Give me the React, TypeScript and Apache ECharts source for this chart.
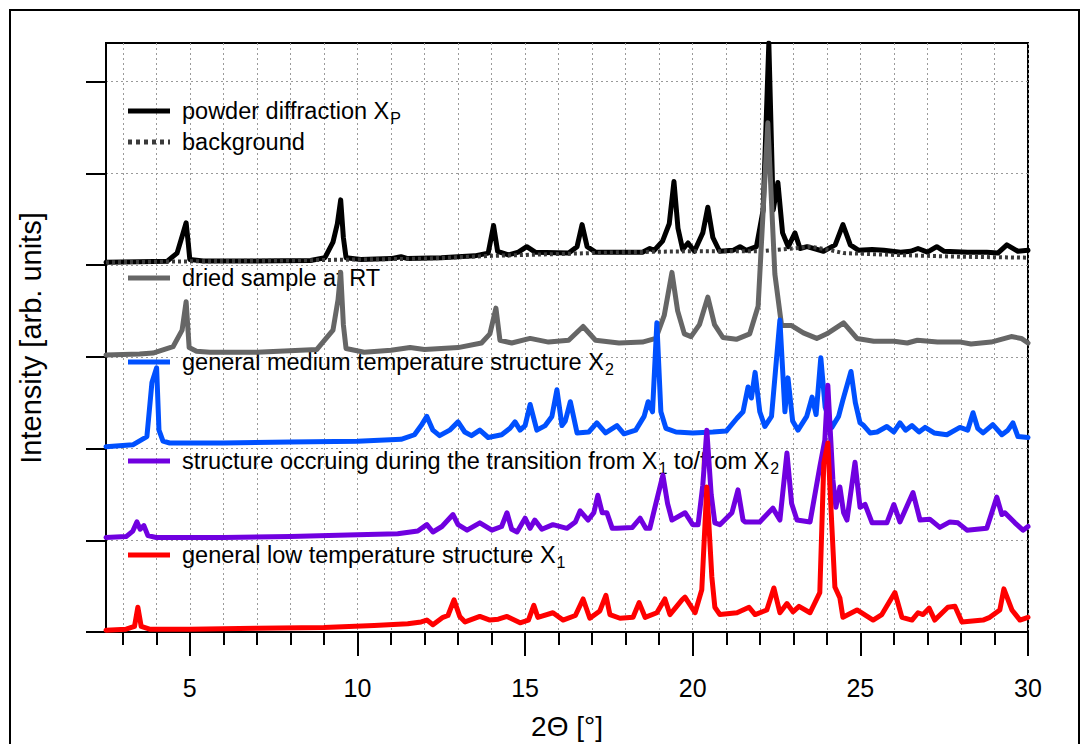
import React, { useEffect, useRef } from "react";
import * as echarts from "echarts";

// ---------- data ----------
const xTickLabels = [5, 10, 15, 20, 25, 30];
const xMinorTicks = [3, 4, 5, 6, 7, 8, 9, 10, 11, 12, 13, 14, 15, 16, 17, 18, 19, 20, 21, 22, 23, 24, 25, 26, 27, 28, 29, 30];
const yTicks = [0, 1, 2, 3, 4, 5, 6];

const legendLabels = [
  "powder diffraction X{s|P}",
  "background",
  "dried sample at RT",
  "general medium temperature structure X{s|2}",
  "structure occruing during the transition from X{s|1} to/from X{s|2}",
  "general low temperature structure X{s|1}",
];

const powderXP: number[][] = [
  [2.5, 4.03], [3.5, 4.035], [4.32, 4.04], [4.62, 4.13], [4.8, 4.35], [4.89, 4.46], [4.95, 4.25], [5.0, 4.06], [5.4, 4.045],
  [7, 4.045], [8.6, 4.05], [9.03, 4.08], [9.27, 4.25], [9.4, 4.45], [9.5, 4.71], [9.58, 4.3], [9.66, 4.08], [10.1, 4.06], [11, 4.07],
  [11.3, 4.09], [11.5, 4.07], [12.5, 4.08], [13.5, 4.1], [13.9, 4.13], [14.06, 4.43], [14.18, 4.15], [14.5, 4.11],
  [14.8, 4.14], [15.05, 4.2], [15.3, 4.14], [16.3, 4.13], [16.55, 4.2], [16.7, 4.44], [16.85, 4.2], [17.1, 4.14],
  [18.5, 4.14], [18.72, 4.18], [18.85, 4.16], [19.1, 4.26], [19.3, 4.45], [19.44, 4.91], [19.56, 4.4], [19.7, 4.17],
  [19.86, 4.24], [20.05, 4.15], [20.3, 4.35], [20.45, 4.63], [20.6, 4.3], [20.8, 4.15], [21.2, 4.16], [21.41, 4.2],
  [21.6, 4.16], [21.9, 4.2], [22.1, 4.6], [22.27, 6.42], [22.4, 4.6], [22.54, 4.9], [22.68, 4.35], [22.85, 4.2],
  [23.05, 4.35], [23.2, 4.18], [23.41, 4.2], [23.9, 4.15], [24.25, 4.22], [24.48, 4.44], [24.7, 4.22], [24.95, 4.16],
  [25.35, 4.17], [25.7, 4.16], [26.2, 4.14], [26.5, 4.15], [26.72, 4.18], [27.0, 4.14], [27.28, 4.2], [27.5, 4.15],
  [28.2, 4.14], [28.77, 4.14], [29.1, 4.13], [29.37, 4.22], [29.7, 4.15], [30, 4.16],
];

const backgroundXP: number[][] = [
  [2.5, 4.03], [5, 4.04], [8, 4.05], [10, 4.06], [12, 4.07], [14, 4.1], [16, 4.12], [18, 4.14], [20, 4.15], [22, 4.15],
  [23, 4.18], [23.5, 4.2], [24, 4.17], [24.5, 4.13], [26, 4.11], [28, 4.09], [30, 4.08],
];

const driedRT: number[][] = [
  [2.5, 3.02], [3.5, 3.03], [3.9, 3.04], [4.5, 3.11], [4.77, 3.29], [4.89, 3.6], [4.98, 3.1], [5.2, 3.06], [5.6, 3.05],
  [7, 3.05], [8.79, 3.08], [9.27, 3.29], [9.42, 3.62], [9.5, 3.92], [9.58, 3.35], [9.66, 3.09], [10.2, 3.05], [11.0, 3.07],
  [11.57, 3.1], [12.0, 3.08], [13.0, 3.1], [13.7, 3.15], [13.95, 3.25], [14.13, 3.53], [14.25, 3.18], [14.6, 3.15],
  [15.15, 3.2], [15.7, 3.16], [16.3, 3.18], [16.73, 3.33], [17.1, 3.18], [17.8, 3.15], [18.5, 3.16], [18.9, 3.2],
  [19.15, 3.45], [19.38, 3.92], [19.55, 3.5], [19.75, 3.25], [19.95, 3.22], [20.2, 3.35], [20.45, 3.65], [20.65, 3.35],
  [20.9, 3.21], [21.3, 3.19], [21.7, 3.25], [21.95, 3.55], [22.24, 5.55], [22.45, 3.9], [22.65, 3.34], [22.95, 3.34],
  [23.3, 3.26], [23.7, 3.2], [24.0, 3.25], [24.5, 3.37], [24.9, 3.2], [25.4, 3.17], [26, 3.17], [26.4, 3.15],
  [26.7, 3.18], [27.3, 3.16], [28, 3.16], [28.3, 3.14], [28.9, 3.16], [29.5, 3.22], [29.8, 3.2], [30, 3.15],
];

const mediumX2: number[][] = [
  [2.5, 2.02], [3.3, 2.04], [3.72, 2.13], [3.87, 2.72], [4.01, 2.88], [4.08, 2.2], [4.2, 2.08], [4.4, 2.06],
  [6, 2.06], [8, 2.07], [10, 2.08], [11.3, 2.1], [11.7, 2.15], [11.9, 2.25], [12.07, 2.35], [12.25, 2.2], [12.45, 2.14],
  [12.75, 2.2], [13.0, 2.29], [13.2, 2.18], [13.4, 2.14], [13.65, 2.2], [13.9, 2.12], [14.3, 2.15], [14.55, 2.22],
  [14.7, 2.29], [14.85, 2.2], [15.0, 2.25], [15.15, 2.48], [15.35, 2.2], [15.6, 2.25], [15.8, 2.35], [15.95, 2.64],
  [16.1, 2.25], [16.2, 2.3], [16.35, 2.51], [16.55, 2.17], [16.9, 2.18], [17.14, 2.28], [17.4, 2.17], [17.74, 2.25],
  [17.95, 2.16], [18.3, 2.2], [18.55, 2.35], [18.67, 2.51], [18.8, 2.4], [18.93, 3.37], [19.05, 2.4], [19.2, 2.22],
  [19.5, 2.18], [20.0, 2.17], [20.6, 2.18], [21.0, 2.19], [21.32, 2.33], [21.5, 2.4], [21.65, 2.67], [21.75, 2.55],
  [21.86, 2.83], [22.0, 2.4], [22.15, 2.24], [22.35, 2.35], [22.6, 3.4], [22.75, 2.4], [22.84, 2.77], [22.98, 2.3],
  [23.14, 2.2], [23.4, 2.35], [23.56, 2.56], [23.68, 2.37], [23.82, 2.99], [23.95, 2.45], [24.15, 2.23], [24.35, 2.35],
  [24.48, 2.53], [24.72, 2.84], [24.85, 2.5], [24.99, 2.28], [25.1, 2.25], [25.29, 2.17], [25.5, 2.18], [25.79, 2.24],
  [26.0, 2.18], [26.18, 2.28], [26.35, 2.2], [26.54, 2.25], [26.75, 2.18], [26.93, 2.23], [27.2, 2.17], [27.58, 2.15],
  [27.97, 2.23], [28.2, 2.2], [28.36, 2.39], [28.5, 2.22], [28.66, 2.17], [28.95, 2.26], [29.22, 2.15], [29.4, 2.2],
  [29.55, 2.28], [29.7, 2.13], [30, 2.12],
];

const transitionX1X2: number[][] = [
  [2.5, 1.03], [3.1, 1.04], [3.3, 1.1], [3.42, 1.2], [3.52, 1.12], [3.63, 1.16], [3.75, 1.05], [4.0, 1.03], [6, 1.03],
  [8, 1.04], [10, 1.06], [11.2, 1.07], [11.8, 1.1], [12.07, 1.17], [12.25, 1.09], [12.52, 1.15], [12.85, 1.28],
  [13.0, 1.17], [13.27, 1.11], [13.65, 1.19], [14.01, 1.11], [14.3, 1.15], [14.46, 1.3], [14.6, 1.12], [14.76, 1.09],
  [15.0, 1.24], [15.15, 1.13], [15.29, 1.22], [15.5, 1.12], [15.83, 1.17], [16.25, 1.13], [16.5, 1.2], [16.64, 1.32],
  [16.88, 1.22], [17.05, 1.3], [17.17, 1.49], [17.3, 1.3], [17.44, 1.3], [17.6, 1.13], [17.74, 1.13], [18.2, 1.14],
  [18.43, 1.24], [18.6, 1.13], [18.72, 1.13], [18.9, 1.4], [19.11, 1.71], [19.25, 1.4], [19.38, 1.22], [19.77, 1.3],
  [20.0, 1.17], [20.16, 1.17], [20.3, 1.6], [20.42, 2.2], [20.55, 1.5], [20.66, 1.19], [20.81, 1.17], [21.17, 1.3],
  [21.35, 1.55], [21.5, 1.22], [21.56, 1.2], [22.0, 1.2], [22.39, 1.35], [22.6, 1.22], [22.81, 1.95], [22.95, 1.4],
  [23.11, 1.22], [23.5, 1.2], [23.79, 1.8], [23.94, 2.09], [24.03, 2.69], [24.18, 1.66], [24.27, 1.36], [24.39, 1.58],
  [24.5, 1.3], [24.6, 1.22], [24.84, 1.85], [24.99, 1.36], [25.14, 1.39], [25.35, 1.19], [25.79, 1.19], [26.0, 1.39],
  [26.18, 1.2], [26.57, 1.52], [26.78, 1.22], [27.07, 1.23], [27.37, 1.14], [27.67, 1.2], [27.91, 1.19], [28.18, 1.11],
  [28.77, 1.13], [29.07, 1.47], [29.22, 1.28], [29.31, 1.3], [29.61, 1.19], [29.85, 1.11], [30, 1.15],
];

const lowX1: number[][] = [
  [2.5, 0.02], [3.1, 0.03], [3.35, 0.06], [3.45, 0.27], [3.55, 0.06], [3.8, 0.03], [5, 0.03], [7, 0.04], [9, 0.05],
  [10.5, 0.07], [11.5, 0.09], [11.9, 0.11], [12.07, 0.13], [12.25, 0.08], [12.55, 0.16], [12.7, 0.18], [12.88, 0.35],
  [13.05, 0.17], [13.21, 0.11], [13.65, 0.17], [13.95, 0.13], [14.2, 0.14], [14.46, 0.17], [14.85, 0.1], [15.1, 0.13],
  [15.26, 0.29], [15.38, 0.16], [15.83, 0.21], [16.13, 0.13], [16.5, 0.18], [16.73, 0.36], [16.93, 0.15], [17.23, 0.23],
  [17.41, 0.4], [17.53, 0.19], [17.83, 0.15], [18.22, 0.16], [18.4, 0.32], [18.58, 0.16], [18.93, 0.21], [19.17, 0.36],
  [19.32, 0.19], [19.68, 0.35], [19.77, 0.38], [20.07, 0.21], [20.27, 0.46], [20.42, 1.58], [20.57, 0.6], [20.66, 0.27],
  [20.81, 0.19], [21.32, 0.21], [21.68, 0.27], [21.86, 0.19], [22.21, 0.24], [22.42, 0.48], [22.6, 0.21], [22.81, 0.31],
  [22.99, 0.22], [23.17, 0.28], [23.5, 0.21], [23.79, 0.43], [23.91, 1.84], [24.03, 2.06], [24.15, 1.15], [24.24, 0.49],
  [24.39, 0.37], [24.48, 0.16], [24.9, 0.24], [25.38, 0.13], [25.64, 0.19], [26.03, 0.43], [26.24, 0.16], [26.54, 0.13],
  [26.72, 0.21], [26.87, 0.19], [27.05, 0.26], [27.22, 0.13], [27.61, 0.27], [27.82, 0.28], [28.03, 0.11], [28.66, 0.13],
  [28.86, 0.16], [29.16, 0.24], [29.28, 0.47], [29.52, 0.24], [29.76, 0.13], [30, 0.16],
];

// ---------- styling ----------
const FONT = '"Liberation Sans", Arial, Helvetica, sans-serif';
const colors = ["#000000", "#3a3a3a", "#666666", "#0050ff", "#7000e0", "#ff0000"];
const seriesData = [powderXP, backgroundXP, driedRT, mediumX2, transitionX1X2, lowX1];
const legendY = [111, 142, 278, 362, 461, 555];

export default function App() {
  const ref = useRef<HTMLDivElement>(null);

  useEffect(() => {
    if (!ref.current) return;
    const chart = echarts.init(ref.current, undefined, { renderer: "svg" });

    const gridLine = { show: true, lineStyle: { color: "#9a9a9a", type: [2, 3] as any, width: 1 } };

    const series = seriesData.map((d, i) => ({
      type: "line",
      name: legendLabels[i],
      data: d,
      showSymbol: false,
      symbol: "none",
      silent: true,
      z: 2 + i,
      lineStyle: {
        color: colors[i],
        width: i === 1 ? 4 : 5,
        type: i === 1 ? ([3, 3] as any) : "solid",
        cap: i === 1 ? "butt" : "round",
        join: "round",
      },
      itemStyle: { color: colors[i] },
    }));

    const legendGraphics: any[] = [];
    legendLabels.forEach((label, i) => {
      legendGraphics.push({
        type: "line",
        shape: { x1: 128, y1: legendY[i], x2: 170, y2: legendY[i] },
        style: {
          stroke: colors[i],
          lineWidth: 5,
          lineDash: i === 1 ? [4, 4] : null,
        },
        z: 1,
      });
      legendGraphics.push({
        type: "text",
        x: 182,
        y: legendY[i],
        z: 1,
        style: {
          text: label,
          fontSize: 23.5,
          fontFamily: FONT,
          fill: "#000",
          align: "left",
          verticalAlign: "middle",
          rich: {
            s: { fontSize: 16, fontFamily: FONT, fill: "#000", verticalAlign: "top", padding: [15, 0, 0, 1] },
          },
        },
      });
    });

    chart.setOption({
      animation: false,
      backgroundColor: "#ffffff",
      grid: {
        left: 106,
        top: 43,
        right: 56,
        bottom: 112,
        show: true,
        borderColor: "#000",
        borderWidth: 2,
        backgroundColor: "transparent",
      },
      xAxis: [
        {
          type: "value",
          min: 2.5,
          max: 30,
          position: "bottom",
          axisLine: { show: true, onZero: false, lineStyle: { color: "#000", width: 2 } },
          axisTick: { show: true, customValues: xTickLabels, length: 24, lineStyle: { color: "#000", width: 2 } },
          axisLabel: { customValues: xTickLabels, fontSize: 25, fontFamily: FONT, color: "#000", margin: 43 },
          splitLine: { show: false },
        },
        {
          type: "value",
          min: 2.5,
          max: 30,
          position: "bottom",
          axisLine: { show: false, onZero: false },
          axisTick: { show: true, customValues: xMinorTicks, length: 13, lineStyle: { color: "#000", width: 2 } },
          axisLabel: { show: false },
          splitLine: gridLine,
        },
      ],
      yAxis: {
        type: "value",
        min: 0,
        max: 6.42,
        axisLine: { show: true, lineStyle: { color: "#000", width: 2 } },
        axisTick: { show: true, customValues: yTicks, length: 20, lineStyle: { color: "#000", width: 2 } },
        axisLabel: { show: false },
        splitLine: gridLine,
      },
      series,
      graphic: [
        {
          type: "rect",
          shape: { x: 10, y: 10, width: 1069, height: 760 },
          style: { fill: "none", stroke: "#000", lineWidth: 2 },
          z: 0,
          silent: true,
        },
        {
          type: "text",
          x: 31,
          y: 338,
          rotation: Math.PI / 2,
          style: {
            text: "Intensity [arb. units]",
            fontSize: 29,
            fontFamily: FONT,
            fill: "#000",
            align: "center",
            verticalAlign: "middle",
          },
        },
        {
          type: "text",
          x: 567,
          y: 726,
          style: {
            text: "2Θ [°]",
            fontSize: 28,
            fontFamily: FONT,
            fill: "#000",
            align: "center",
            verticalAlign: "middle",
          },
        },
        ...legendGraphics,
      ],
    });

    return () => chart.dispose();
  }, []);

  return (
    <div
      ref={ref}
      style={{ position: "absolute", left: 0, top: 0, width: 1084, height: 744, background: "#fff" }}
    />
  );
}
